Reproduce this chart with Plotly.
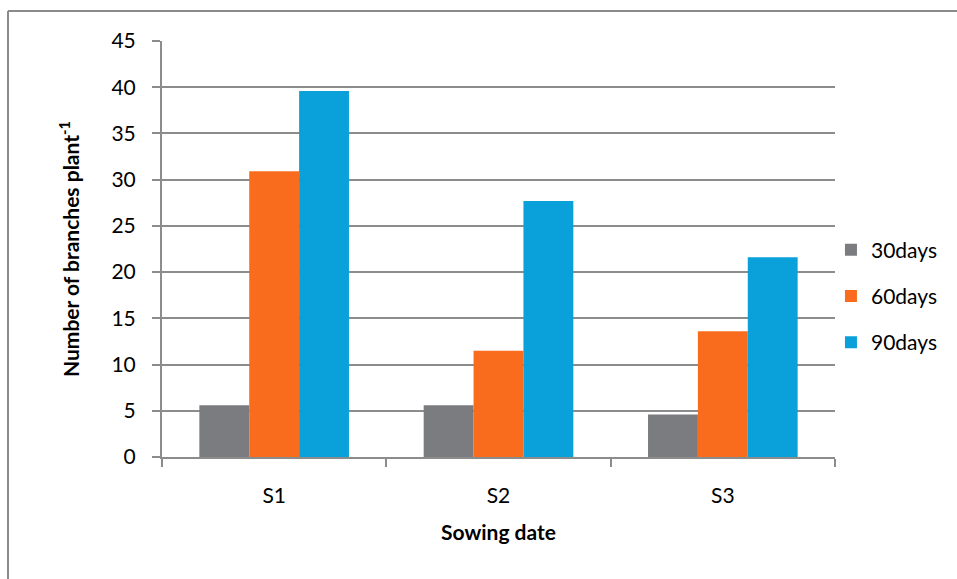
import plotly.graph_objects as go

# Sowing dates and number of branches per plant at each sampling stage
sowing_dates = ["S1", "S2", "S3"]
days_30 = [5.6, 5.6, 4.6]
days_60 = [30.9, 11.5, 13.6]
days_90 = [39.6, 27.7, 21.6]
series_names = ["30days", "60days", "90days"]
series_colors = ["#7B7C80", "#F96B1D", "#0AA1DA"]
y_ticks = [0, 5, 10, 15, 20, 25, 30, 35, 40, 45]

FONT = "Lato, Carlito, Calibri, sans-serif"
GRID = "#8C8C8C"

fig = go.Figure()
for i, (name, vals, col) in enumerate(zip(series_names, [days_30, days_60, days_90], series_colors)):
    fig.add_trace(go.Bar(
        x=sowing_dates, y=vals, name=name, legendgroup=f"g{i}",
        marker=dict(color=col, line=dict(width=0)),
    ))

fig.update_layout(
    width=957, height=579,
    margin=dict(l=162, r=122, t=41, b=122, autoexpand=False),
    paper_bgcolor="white", plot_bgcolor="white",
    font=dict(family=FONT, size=21, color="#000000"),
    barmode="group", bargap=0.333, bargroupgap=0,
    showlegend=True,
    legend=dict(
        x=0.994, y=0.387, xanchor="left", yanchor="middle",
        font=dict(family=FONT, size=21, color="#000000"),
        tracegroupgap=16, itemwidth=30, traceorder="grouped",
        bgcolor="rgba(0,0,0,0)",
    ),
    xaxis=dict(
        showline=True, linecolor=GRID, linewidth=2,
        ticks="outside", ticklen=8, tickwidth=2, tickcolor=GRID,
        tickson="boundaries", showgrid=False,
        tickfont=dict(family=FONT, size=21),
        ticklabelstandoff=19,
        title=dict(text="<b>Sowing date</b>", font=dict(family=FONT, size=21), standoff=19),
    ),
    yaxis=dict(
        range=[0, 45], tickvals=y_ticks,
        showline=True, linecolor=GRID, linewidth=2,
        ticks="outside", ticklen=8, tickwidth=2, tickcolor=GRID,
        showgrid=True, gridcolor=GRID, gridwidth=2,
        zeroline=False,
        tickfont=dict(family=FONT, size=21),
        ticklabelstandoff=12,
        title=dict(text="<b>Number of branches plant<sup>-1</sup></b>",
                   font=dict(family=FONT, size=21), standoff=26),
    ),
    shapes=[
        # outer chart-area frame (left and top edges)
        dict(type="line", xref="paper", yref="paper",
             x0=(8 - 162) / 673, x1=(8 - 162) / 673, y0=1.0721, y1=-0.3,
             line=dict(color="#8A8A8A", width=2)),
        dict(type="line", xref="paper", yref="paper",
             x0=(8 - 162) / 673, x1=1.2, y0=1.0721, y1=1.0721,
             line=dict(color="#8A8A8A", width=2)),
    ],
)

fig.write_html("out.html")
